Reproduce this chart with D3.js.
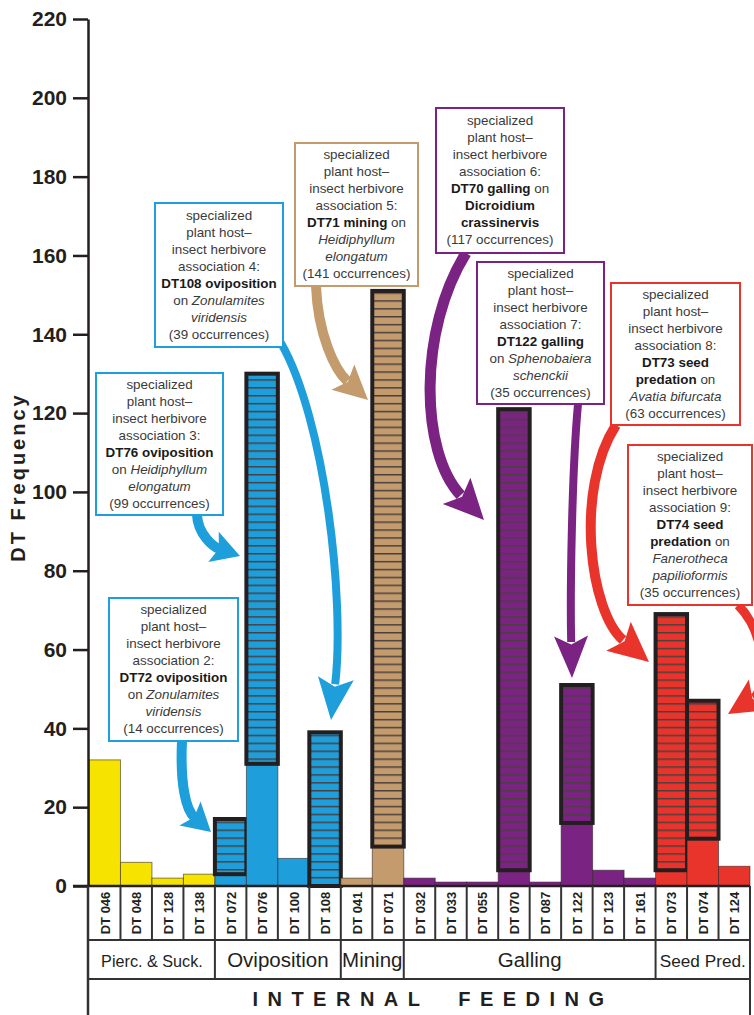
<!DOCTYPE html>
<html>
<head>
<meta charset="utf-8">
<script src="https://cdn.jsdelivr.net/npm/d3@7"></script>
<style>
  body { margin: 0; background: #fff; }
  svg { display: block; font-family: Arial, "Liberation Sans", Helvetica, sans-serif; }
</style>
</head>
<body>
<svg id="chart"></svg>
<script>
// damage types, in plotting order
const codes = ['DT 046', 'DT 048', 'DT 128', 'DT 138', 'DT 072', 'DT 076', 'DT 100', 'DT 108',
  'DT 041', 'DT 071', 'DT 032', 'DT 033', 'DT 055', 'DT 070', 'DT 087', 'DT 122', 'DT 123',
  'DT 161', 'DT 073', 'DT 074', 'DT 124'];
const feedingGroups = ['Pierc. & Suck.', 'Oviposition', 'Mining', 'Galling', 'Seed Pred.'];
const groupSizes = [4, 4, 2, 8, 3];
// occurrences not tied to the specialized host (solid part)
const baseCounts = [32, 6, 2, 3, 3, 31, 7, 0, 2, 10, 2, 1, 1, 4, 1, 16, 4, 2, 4, 12, 5];
// occurrences on the specialized host (hatched part)
const hostCounts = [0, 0, 0, 0, 14, 99, 0, 39, 0, 141, 0, 0, 0, 117, 0, 35, 0, 0, 65, 35, 0];
const yTicks = [0, 20, 40, 60, 80, 100, 120, 140, 160, 180, 200, 220];
const groupColors = ['#f6e400', '#1e9fdb', '#c49b6c', '#7b2382', '#e8342b'];

// callout texts: **bold**, _italic_
const notes = [
  { assoc: 2, color: 1, lines: ['specialized', 'plant host–', 'insect herbivore', 'association 2:', '**DT72 oviposition**', 'on _Zonulamites_', '_viridensis_', '(14 occurrences)'] },
  { assoc: 3, color: 1, lines: ['specialized', 'plant host–', 'insect herbivore', 'association 3:', '**DT76 oviposition**', 'on _Heidiphyllum_', '_elongatum_', '(99 occurrences)'] },
  { assoc: 4, color: 1, lines: ['specialized', 'plant host–', 'insect herbivore', 'association 4:', '**DT108 oviposition**', 'on _Zonulamites_', '_viridensis_', '(39 occurrences)'] },
  { assoc: 5, color: 2, lines: ['specialized', 'plant host–', 'insect herbivore', 'association 5:', '**DT71 mining** on', '_Heidiphyllum_', '_elongatum_', '(141 occurrences)'] },
  { assoc: 6, color: 3, lines: ['specialized', 'plant host–', 'insect herbivore', 'association 6:', '**DT70 galling** on', '**Dicroidium**', '**crassinervis**', '(117 occurrences)'] },
  { assoc: 7, color: 3, lines: ['specialized', 'plant host–', 'insect herbivore', 'association 7:', '**DT122 galling**', 'on _Sphenobaiera_', '_schenckii_', '(35 occurrences)'] },
  { assoc: 8, color: 4, lines: ['specialized', 'plant host–', 'insect herbivore', 'association 8:', '**DT73 seed**', '**predation** on', '_Avatia bifurcata_', '(63 occurrences)'] },
  { assoc: 9, color: 4, lines: ['specialized', 'plant host–', 'insect herbivore', 'association 9:', '**DT74 seed**', '**predation** on', '_Fanerotheca_', '_papilioformis_', '(35 occurrences)'] }
];

// where each callout box and its arrow sit on the page
const calloutLayout = {
  2: { box: [109, 598, 129, 143], arrow: [[182, 741], [180, 785], [186, 810], [211, 832]], sw: 10, head: [28, 16] },
  3: { box: [96, 373, 127, 142], arrow: [[197, 515], [198, 535], [214, 547], [240, 556]], sw: 10, head: [28, 16] },
  4: { box: [155, 203, 128, 144], arrow: [[281, 343], [325, 420], [345, 600], [331, 720]], sw: 8, head: [42, 18] },
  5: { box: [295, 143, 123, 143], arrow: [[316, 286], [318, 335], [335, 370], [368, 400]], sw: 10, head: [34, 17] },
  6: { box: [436, 108, 128, 145], arrow: [[466, 253], [418, 330], [420, 452], [484, 520]], sw: 11, head: [40, 19] },
  7: { box: [477, 262, 127, 142], arrow: [[578, 404], [572, 470], [570, 590], [572, 678]], sw: 8, head: [42, 17] },
  8: { box: [611, 283, 129, 142], arrow: [[616, 425], [574, 490], [590, 612], [649, 662]], sw: 10, head: [40, 19] },
  9: { box: [628, 445, 124, 160], arrow: [[738, 605], [768, 635], [766, 690], [728, 714]], sw: 9, head: [36, 18] }
};

const W = 754, H = 1015;
const plot = { left: 89, right: 750, top: 19, bottom: 886 };
const ink = '#231f20';

const groupIndex = i => {
  let acc = 0;
  for (let g = 0; g < groupSizes.length; g++) {
    acc += groupSizes[g];
    if (i < acc) return g;
  }
  return groupSizes.length - 1;
};

const drawChart = () => {
  const svg = d3.select('#chart').attr('width', W).attr('height', H);

  const x = d3.scaleBand().domain(codes).range([plot.left, plot.right]).padding(0);
  const y = d3.scaleLinear().domain([0, 220]).range([plot.bottom, plot.top]);

  // stripe patterns for the specialized-host part
  const defs = svg.append('defs');
  groupColors.forEach((c, i) => {
    const p = defs.append('pattern')
      .attr('id', `stripes-${i}`)
      .attr('patternUnits', 'userSpaceOnUse')
      .attr('width', 40).attr('height', 7.9);
    p.append('rect').attr('width', 40).attr('height', 7.9).attr('fill', c);
    p.append('rect').attr('y', 0).attr('width', 40).attr('height', 1.5).attr('fill', '#4a4040');
  });

  // arrows behind boxes
  const arrowG = svg.append('g').attr('class', 'arrows');
  notes.forEach(n => {
    const lay = calloutLayout[n.assoc];
    const [s, c1, c2, tip] = lay.arrow;
    const dx = tip[0] - c2[0], dy = tip[1] - c2[1];
    const len = Math.hypot(dx, dy);
    const ux = dx / len, uy = dy / len;
    const [hl, hw] = lay.head;
    const neck = [tip[0] - ux * hl, tip[1] - uy * hl];
    const color = groupColors[n.color];
    const path = d3.path();
    path.moveTo(s[0], s[1]);
    path.bezierCurveTo(c1[0], c1[1], c2[0], c2[1], neck[0] + ux * 6, neck[1] + uy * 6);
    arrowG.append('path')
      .attr('d', path.toString())
      .attr('fill', 'none')
      .attr('stroke', color)
      .attr('stroke-width', lay.sw);
    const px = -uy, py = ux;
    const back = [neck[0] + ux * hl * 0.2, neck[1] + uy * hl * 0.2];
    arrowG.append('path')
      .attr('d', `M${tip[0]},${tip[1]}L${neck[0] + px * hw},${neck[1] + py * hw}L${back[0]},${back[1]}L${neck[0] - px * hw},${neck[1] - py * hw}Z`)
      .attr('fill', color);
  });

  // bars
  const bars = svg.append('g').attr('class', 'bars');
  codes.forEach((code, i) => {
    const x0 = x(code), bw = x.bandwidth();
    const base = baseCounts[i], host = hostCounts[i];
    const g = groupIndex(i);
    if (base > 0) {
      bars.append('rect')
        .attr('x', x0).attr('width', bw)
        .attr('y', y(base)).attr('height', y(0) - y(base))
        .attr('fill', groupColors[g])
        .attr('stroke', 'rgba(40,30,30,0.55)').attr('stroke-width', 1);
    }
    if (host > 0) {
      bars.append('rect')
        .attr('x', x0).attr('width', bw)
        .attr('y', y(base + host)).attr('height', y(base) - y(base + host))
        .attr('fill', `url(#stripes-${g})`)
        .attr('stroke', ink).attr('stroke-width', 4);
    }
  });

  // y axis
  const yAxis = d3.axisLeft(y).tickValues(yTicks).tickSize(15).tickSizeOuter(0).tickPadding(6);
  const ya = svg.append('g').attr('class', 'y-axis')
    .attr('transform', `translate(${plot.left - 1},0)`)
    .call(yAxis);
  ya.select('.domain').attr('stroke', ink).attr('stroke-width', 2.5);
  ya.selectAll('.tick line').attr('stroke', ink).attr('stroke-width', 2.5);
  ya.selectAll('.tick text')
    .attr('fill', ink)
    .style('font-size', '21px')
    .style('font-weight', 'bold')
    .style('font-family', 'Arial, "Liberation Sans", sans-serif');

  svg.append('text')
    .attr('transform', `translate(25,477) rotate(-90)`)
    .attr('text-anchor', 'middle')
    .attr('fill', ink)
    .style('font-size', '20px')
    .style('font-weight', 'bold')
    .style('letter-spacing', '3px')
    .text('DT Frequency');

  // category table under the bars
  const table = svg.append('g').attr('class', 'table')
    .attr('stroke', '#333').attr('stroke-width', 2);
  const row1 = 940, row2 = 979;
  table.append('line').attr('x1', plot.left - 16).attr('x2', plot.right).attr('y1', plot.bottom).attr('y2', plot.bottom).attr('stroke', ink).attr('stroke-width', 2.5);
  table.append('line').attr('x1', plot.left).attr('x2', plot.right).attr('y1', row1).attr('y2', row1);
  table.append('line').attr('x1', plot.left).attr('x2', plot.right).attr('y1', row2).attr('y2', row2);
  table.append('line').attr('x1', plot.left - 1).attr('x2', plot.left - 1).attr('y1', plot.bottom).attr('y2', H).attr('stroke-width', 2.5);
  table.append('line').attr('x1', plot.right).attr('x2', plot.right).attr('y1', plot.bottom).attr('y2', H);
  codes.slice(1).forEach(code => {
    table.append('line').attr('x1', x(code)).attr('x2', x(code)).attr('y1', plot.bottom).attr('y2', row1);
  });

  svg.append('g').selectAll('text')
    .data(codes)
    .join('text')
    .attr('transform', d => `translate(${x(d) + x.bandwidth() / 2 + 5},913) rotate(-90)`)
    .attr('text-anchor', 'middle')
    .attr('fill', ink)
    .style('font-size', '13px')
    .style('font-weight', 'bold')
    .text(d => d);

  let start = 0;
  // narrower cells get a smaller face so the name fits
  const groupFont = { 'Pierc. & Suck.': 16.2, 'Seed Pred.': 17.2 };
  feedingGroups.forEach((name, gi) => {
    const first = codes[start];
    const last = codes[start + groupSizes[gi] - 1];
    const gx0 = x(first), gx1 = x(last) + x.bandwidth();
    if (gi > 0) {
      table.append('line').attr('x1', gx0).attr('x2', gx0).attr('y1', row1).attr('y2', row2);
    }
    svg.append('text')
      .attr('x', (gx0 + gx1) / 2)
      .attr('y', 967)
      .attr('text-anchor', 'middle')
      .attr('fill', ink)
      .style('font-size', `${groupFont[name] || 20.5}px`)
      .text(name);
    start += groupSizes[gi];
  });

  svg.append('text')
    .attr('x', 433)
    .attr('y', 1006)
    .attr('text-anchor', 'middle')
    .attr('fill', ink)
    .style('font-size', '20px')
    .style('font-weight', 'bold')
    .style('letter-spacing', '9.5px')
    .style('word-spacing', '14px')
    .text('INTERNAL FEEDING');

  // callout boxes
  const boxG = svg.append('g').attr('class', 'callouts');
  notes.forEach(n => {
    const [bx, by, bw, bh] = calloutLayout[n.assoc].box;
    const color = groupColors[n.color];
    boxG.append('rect')
      .attr('x', bx).attr('y', by).attr('width', bw).attr('height', bh)
      .attr('fill', '#fff')
      .attr('stroke', color).attr('stroke-width', 2);
    const lh = 17;
    const top = by + (bh - n.lines.length * lh) / 2 + lh * 0.76;
    n.lines.forEach((line, li) => {
      const t = boxG.append('text')
        .attr('x', bx + bw / 2)
        .attr('y', top + li * lh)
        .attr('text-anchor', 'middle')
        .attr('fill', '#3a3a3a')
        .style('font-size', '13.4px');
      line.split(/(\*\*[^*]+\*\*|_[^_]+_)/).filter(s => s).forEach(seg => {
        const ts = t.append('tspan');
        if (seg.startsWith('**')) ts.style('font-weight', 'bold').attr('fill', '#1a1a1a').text(seg.slice(2, -2));
        else if (seg.startsWith('_')) ts.style('font-style', 'italic').text(seg.slice(1, -1));
        else ts.text(seg);
      });
    });
  });
};

drawChart();
</script>
</body>
</html>
